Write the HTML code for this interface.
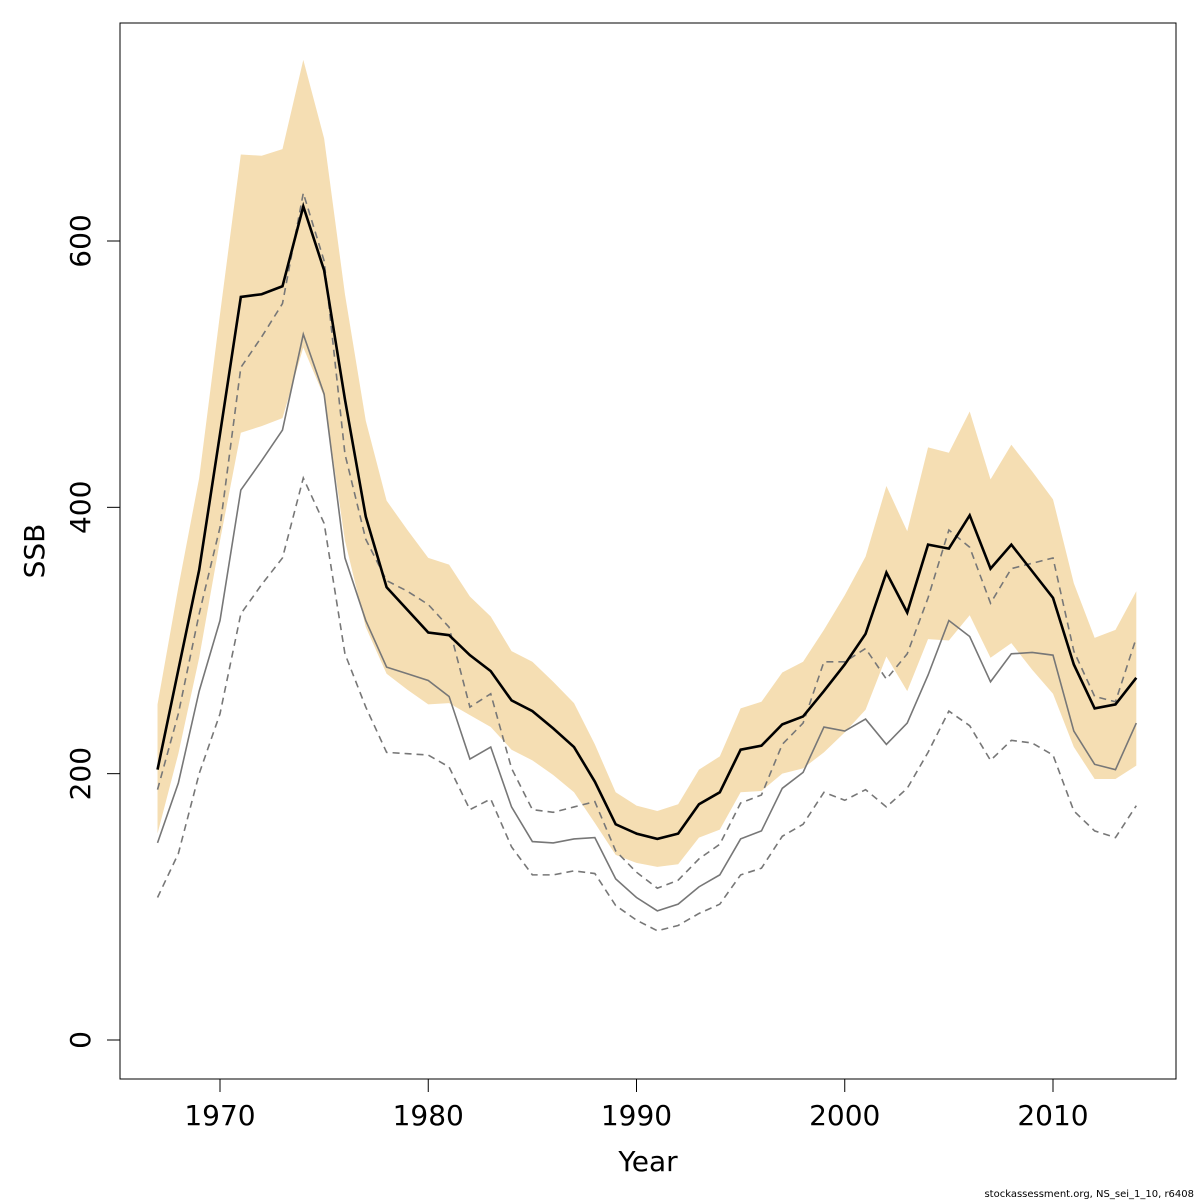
<!DOCTYPE html>
<html><head><meta charset="utf-8"><style>
html,body{margin:0;padding:0;background:#fff;width:1200px;height:1200px;overflow:hidden}
svg text{font-family:"DejaVu Sans","Liberation Sans",sans-serif}
</style></head><body>
<svg id="chart" width="1200" height="1200" xmlns="http://www.w3.org/2000/svg">
<rect x="0" y="0" width="1200" height="1200" fill="#fff"/>
<g id="band"></g>
<g id="lines"></g>
<rect x="120" y="23" width="1056" height="1056" fill="none" stroke="#000" stroke-width="1"/>
<g id="xaxis"></g>
<g id="yaxis"></g>
<text x="648" y="1171" font-size="28" text-anchor="middle">Year</text>
<text transform="translate(44,551) rotate(-90)" font-size="28" text-anchor="middle">SSB</text>
<text x="1194" y="1197" font-size="10" text-anchor="end">stockassessment.org, NS_sei_1_10, r6408</text>
</svg>
<script>
const years=[];for(let y=1967;y<=2014;y++)years.push(y);
const ssb=[203,278,353,455,558,560,566,626,578,481,393,340,323,306,304,289,277,255,247,234,220,194,162,155,151,155,177,186,218,221,237,243,262,282,305,351,321,372,369,394,354,372,352,332,282,249,252,272];
const bandHigh=[252,340,422,545,665,664,669,736,677,560,465,405,383,362,357,333,318,292,284,269,253,222,186,176,172,177,203,213,249,254,276,284,308,334,363,416,382,445,441,472,421,447,427,406,343,302,308,337];
const bandLow=[155,215,287,375,456,461,467,520,483,375,310,275,263,252,253,244,235,218,210,199,186,163,139,133,130,132,152,158,186,187,200,204,216,231,248,288,262,301,300,319,287,298,278,260,220,196,196,206];
const greyLine=[148,193,262,315,413,435,458,530,485,362,315,280,275,270,258,211,220,175,149,148,151,152,121,107,97,102,115,124,151,157,189,201,235,232,241,222,238,274,315,303,269,290,291,289,232,207,203,238];
const greyHigh=[188,245,320,385,505,528,553,636,585,440,376,345,337,327,310,250,260,204,173,171,175,179,142,126,114,120,136,147,178,184,222,238,284,284,294,271,290,332,383,370,328,354,358,362,292,258,254,302];
const greyLow=[107,140,200,245,320,342,362,422,388,290,250,216,215,214,205,173,181,145,124,124,127,125,101,90,82,86,95,102,124,129,153,162,186,180,188,175,189,216,247,236,210,225,223,214,172,157,152,176];
const xTicks=[1970,1980,1990,2000,2010];
const yTicks=[0,200,400,600];
const NS='http://www.w3.org/2000/svg';
function X(y){return 220+(y-1970)*20.825;}
function Y(v){return 1040-v*1.33167;}
function mk(t,a,p){const e=document.createElementNS(NS,t);for(const k in a)e.setAttribute(k,a[k]);p.appendChild(e);return e;}
const band=document.getElementById('band'),lines=document.getElementById('lines');
let d='';years.forEach((y,i)=>{d+=(i?'L':'M')+X(y)+','+Y(bandHigh[i]);});
for(let i=years.length-1;i>=0;i--)d+='L'+X(years[i])+','+Y(bandLow[i]);
const bp=mk('path',{d:d+'Z',fill:'#f5deb3',stroke:'none'},band);


function line(arr,st,name){const p=arr.map((v,i)=>X(years[i])+','+Y(v)).join(' ');
const e=mk('polyline',Object.assign({points:p,fill:'none'},st),lines);

}
line(greyHigh,{stroke:'#777','stroke-width':1.6,'stroke-dasharray':'7,5'},'grey-upper-dashed');
line(greyLow,{stroke:'#777','stroke-width':1.6,'stroke-dasharray':'7,5'},'grey-lower-dashed');
line(greyLine,{stroke:'#777','stroke-width':1.6},'grey-estimate-line');
line(ssb,{stroke:'#000','stroke-width':2.6},'ssb-estimate-line');
const xa=document.getElementById('xaxis'),ya=document.getElementById('yaxis');
mk('line',{x1:X(1970),x2:X(2010),y1:1079,y2:1079,stroke:'#000'},xa);
xTicks.forEach(t=>{mk('line',{x1:X(t),x2:X(t),y1:1079,y2:1092,stroke:'#000'},xa);
const tx=mk('text',{x:X(t),y:1125,'font-size':28,'text-anchor':'middle'},xa);tx.textContent=t;

});
mk('line',{x1:120,x2:120,y1:Y(0),y2:Y(600),stroke:'#000'},ya);
yTicks.forEach(t=>{mk('line',{x1:107,x2:120,y1:Y(t),y2:Y(t),stroke:'#000'},ya);
const tx=mk('text',{transform:'translate(90,'+Y(t)+') rotate(-90)','font-size':28,'text-anchor':'middle'},ya);tx.textContent=t;

});
</script>
</body></html>
